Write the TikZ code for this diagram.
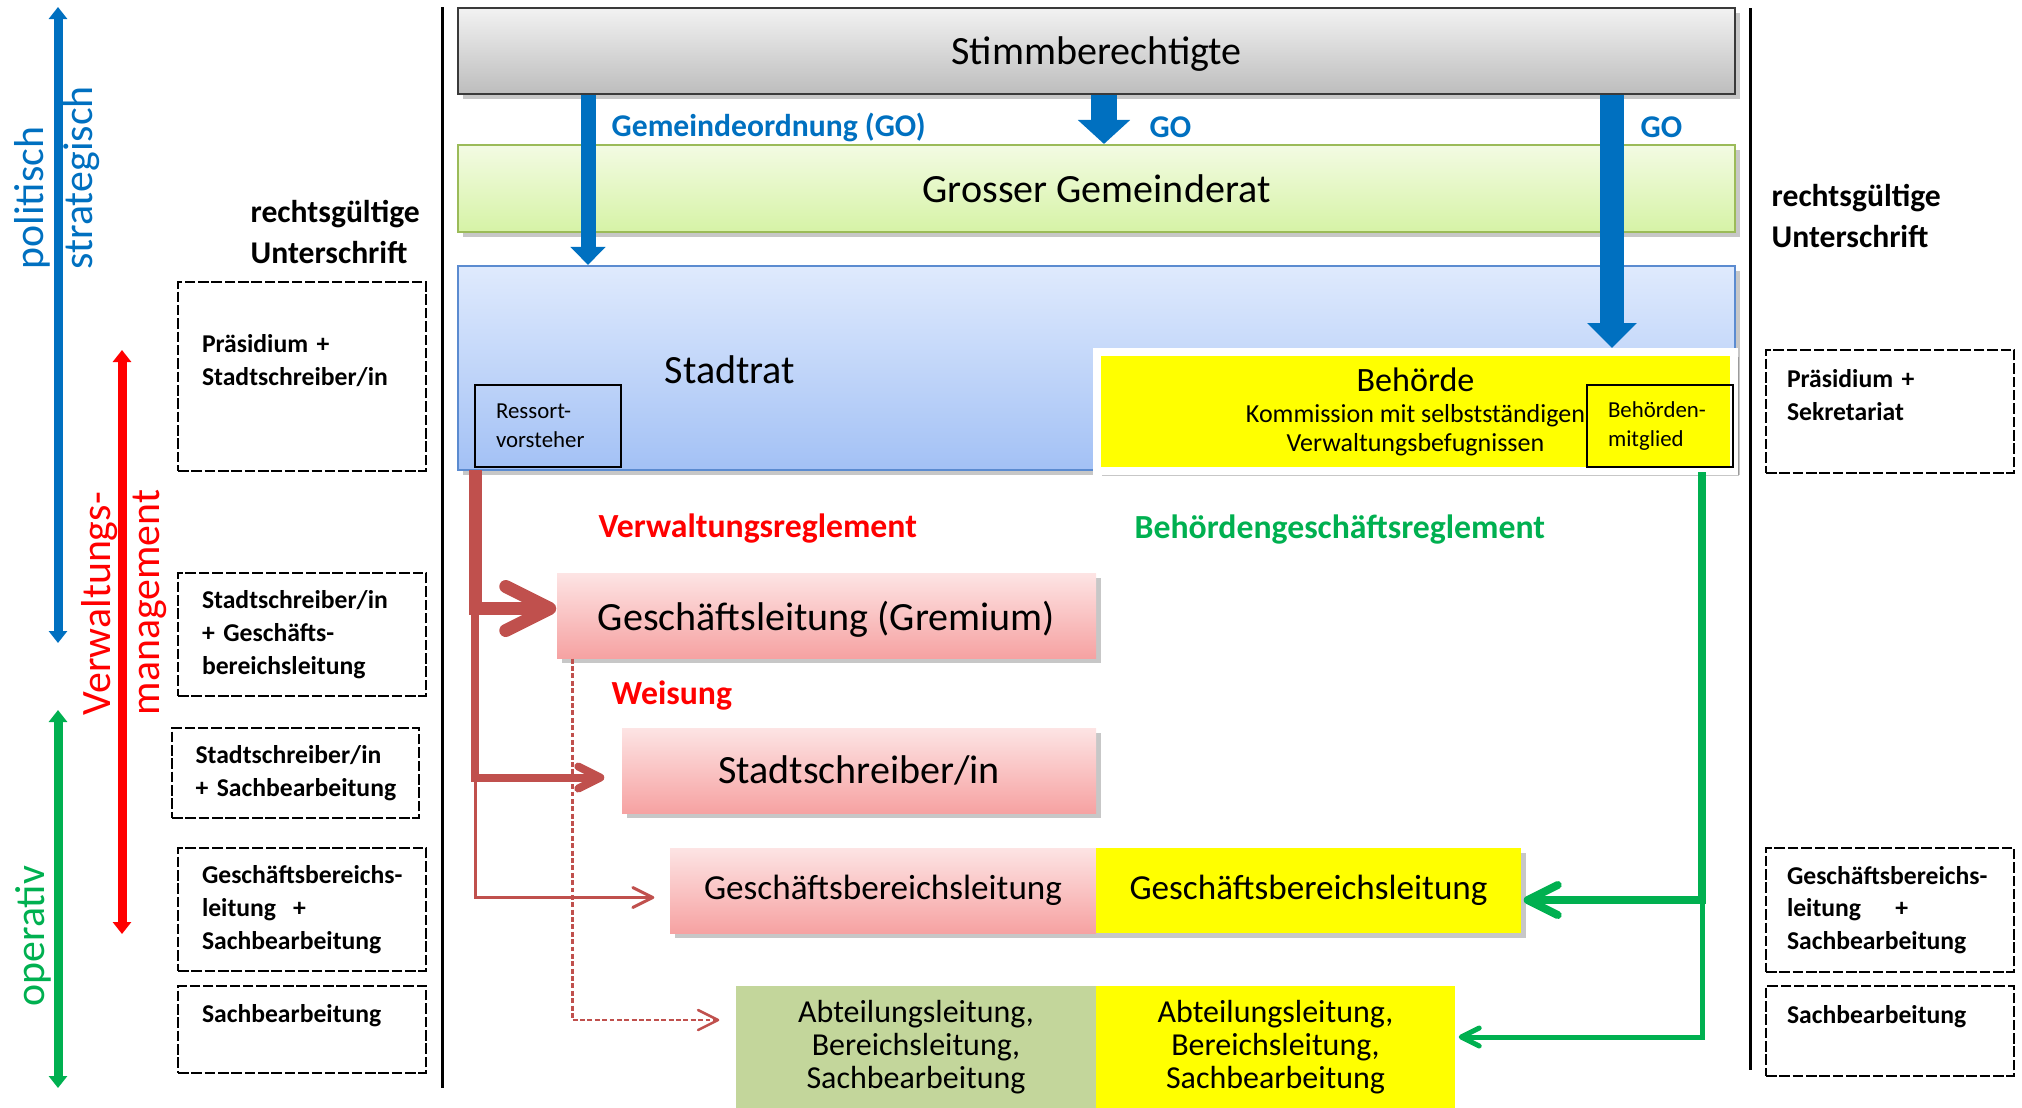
\documentclass[tikz,border=0pt]{standalone}
\usepackage{fontspec}
\setmainfont{Carlito}
\usetikzlibrary{arrows.meta,shadows}

\definecolor{stimtop}{HTML}{F2F2F2}
\definecolor{stimbot}{HTML}{BDBDBD}
\definecolor{stimline}{HTML}{3A3A3A}
\definecolor{ggrtop}{HTML}{F3FBE3}
\definecolor{ggrbot}{HTML}{D6F3A6}
\definecolor{ggrline}{HTML}{9BBB59}
\definecolor{srattop}{HTML}{DFEAFD}
\definecolor{sratbot}{HTML}{A3C1F5}
\definecolor{sratline}{HTML}{5B8BD0}
\definecolor{pinktop}{HTML}{FDE4E4}
\definecolor{pinkbot}{HTML}{F6A2A2}
\definecolor{behyellow}{HTML}{FFFF00}
\definecolor{abtgreen}{HTML}{C3D69B}
\definecolor{goblue}{HTML}{0070C0}
\definecolor{regred}{HTML}{FF0000}
\definecolor{weired}{HTML}{C0504D}
\definecolor{behgreen}{HTML}{00B050}

\begin{document}
\begin{tikzpicture}[x=1cm,y=-1cm,
   every node/.style={inner sep=0pt},
   bigtxt/.style={font=\fontsize{11.4}{13.7}\selectfont},
   midtxt/.style={font=\fontsize{10}{12}\selectfont},
   abttxt/.style={font=\fontsize{9.1}{9.4}\selectfont},
   smalltxt/.style={font=\fontsize{6.5}{8.25}\selectfont},
   komtxt/.style={font=\fontsize{7.4}{8.25}\selectfont},
   sidetxt/.style={font=\fontsize{7.3}{9.3}\selectfont\bfseries},
   signtxt/.style={font=\fontsize{9}{11.4}\selectfont\bfseries},
   golbl/.style={font=\fontsize{9}{11}\selectfont\bfseries, text=goblue, anchor=west},
   reglbl/.style={font=\fontsize{9.6}{11}\selectfont\bfseries, anchor=west},
   axistxt/.style={font=\fontsize{11.9}{13.9}\selectfont, rotate=90, anchor=west, align=left},
   shadowed/.style={drop shadow={shadow xshift=0.05cm, shadow yshift=-0.05cm, opacity=0.22, fill=black}},
   govbox/.style={shadowed, minimum width=12.77cm, line width=0.6pt, bigtxt},
   pinkbox/.style={shadowed, top color=pinktop, bottom color=pinkbot, minimum height=0.85cm},
   memberbox/.style={draw, line width=0.8pt, minimum width=1.46cm, minimum height=0.82cm,
                     text width=1.04cm, align=left, smalltxt},
   dashbox/.style={draw, line width=0.8pt, dash pattern=on 3pt off 0.8pt, minimum width=2.48cm,
                   text width=2.0cm, align=left, sidetxt},
   sidearrow/.style={line width=0.09cm, {Triangle[width=0.18cm,length=0.12cm]}-{Triangle[width=0.18cm,length=0.12cm]}},
   weiarrow/.style={weired, -{Straight Barb[length=#1,width=#1,round]}},
   behdarrow/.style={behgreen, -{Straight Barb[length=#1,width=#1,round]}}]

  \useasboundingbox (0,0) rectangle (20.22,11.07);

  % Organs
  \node[govbox, minimum height=0.86cm, text depth=0pt, top color=stimtop, bottom color=stimbot, draw=stimline] (stimm) at (10.965,0.51) {Stimmberechtigte};  % voters
  \node[govbox, minimum height=0.87cm, top color=ggrtop, bottom color=ggrbot, draw=ggrline] (ggr) at (10.965,1.885) {Grosser Gemeinderat}; % parliament
  \node[govbox, minimum height=2.04cm, top color=srattop, bottom color=sratbot, draw=sratline] (srat) at (10.965,3.68) {};             % Stadtrat box
  \node[bigtxt] (sratlbl) at (7.30,3.70) {Stadtrat};
  \node[memberbox] (ressort) at (5.48,4.26) {Ressort-\\vorsteher};

  \node[shadowed, draw=white, line width=0.08cm, fill=behyellow, minimum width=6.37cm, minimum height=1.19cm,
        align=center, komtxt] (behoerde) at (14.155,4.115)
        {{\fontsize{9.7}{11}\selectfont Behörde}\\[0.6pt]Kommission mit selbstständigen\\Verwaltungsbefugnissen};
  \node[memberbox] (mitglied) at (16.60,4.26) {Behörden-\\mitglied};

  % Administration
  \node[pinkbox, minimum width=5.39cm, text depth=0pt, bigtxt] (gl) at (8.265,6.155) {Geschäftsleitung (Gremium)};
  \node[pinkbox, minimum width=4.74cm, bigtxt] (ss) at (8.59,7.705) {Stadtschreiber/in};
  \node[pinkbox, minimum width=4.26cm, midtxt] (gblr) at (8.83,8.905) {Geschäftsbereichsleitung};
  \node[shadowed, fill=behyellow, minimum width=4.25cm, minimum height=0.85cm, midtxt] (gbly) at (13.085,8.905) {Geschäftsbereichsleitung};
  \node[fill=abtgreen, minimum width=3.60cm, minimum height=1.22cm, align=center, abttxt] (abtl) at (9.16,10.47)
        {Abteilungsleitung,\\Bereichsleitung,\\Sachbearbeitung};
  \node[fill=behyellow, minimum width=3.59cm, minimum height=1.22cm, align=center, abttxt] (abty) at (12.755,10.47)
        {Abteilungsleitung,\\Bereichsleitung,\\Sachbearbeitung};

  % Dividers
  \draw[line width=0.03cm] (4.42,0.07) -- (4.42,10.88);    % left divider
  \draw[line width=0.03cm] (17.50,0.08) -- (17.50,10.70);  % right divider

  % Levels
  \draw[sidearrow, goblue] (0.58,6.43) -- (0.58,0.07);      % politisch strategisch
  \draw[sidearrow, regred] (1.22,9.34) -- (1.22,3.50);      % Verwaltungsmanagement
  \draw[sidearrow, behgreen] (0.58,10.88) -- (0.58,7.10);   % operativ
  \node[axistxt, text=goblue] (polit) at (0.575,2.70) {politisch\\strategisch};
  \node[axistxt, text=regred] (verw) at (1.24,7.16) {Verwaltungs-\\management};
  \node[axistxt, text=behgreen] (oper) at (0.33,10.07) {operativ};

  % Signatures
  \node[signtxt, anchor=west, align=left] (signL) at (2.50,2.32) {rechtsgültige\\Unterschrift};
  \node[signtxt, anchor=west, align=left] (signR) at (17.71,2.16) {rechtsgültige\\Unterschrift};
  \node[dashbox, minimum height=1.89cm] (lpraes) at (3.02,3.765) {Präsidium +\\Stadtschreiber/in\\\hbox{}};
  \node[dashbox, minimum height=1.23cm] (lgbl) at (3.02,6.345) {Stadtschreiber/in\\+ Geschäfts-\\bereichsleitung};
  \node[dashbox, minimum width=2.47cm, minimum height=0.90cm] (lss) at (2.955,7.73) {Stadtschreiber/in\\\hbox{+ Sachbearbeitung}};
  \node[dashbox, minimum height=1.23cm] (lgblsb) at (3.02,9.095) {\hbox{Geschäftsbereichs-}\\leitung\ \ +\\Sachbearbeitung};
  \node[dashbox, minimum height=0.87cm] (lsb) at (3.02,10.295) {Sachbearbeitung\\\hbox{}};
  \node[dashbox, text width=2.06cm, minimum height=1.23cm] (rpraes) at (18.90,4.115) {Präsidium +\\Sekretariat\\\hbox{}};
  \node[dashbox, text width=2.06cm, minimum height=1.24cm] (rgblsb) at (18.90,9.10) {\hbox{Geschäftsbereichs-}\\leitung\ \ \ \ +\\Sachbearbeitung};
  \node[dashbox, text width=2.06cm, minimum height=0.90cm] (rsb) at (18.90,10.31) {Sachbearbeitung\\\hbox{}};

  % Gemeindeordnung
  \coordinate (goL) at (5.88,0);
  \coordinate (goM) at (11.04,0);
  \coordinate (goR) at (16.12,0);
  \draw[goblue, line width=0.15cm, -{Triangle[width=0.34cm,length=0.18cm]}] (stimm.south -| goL) -- (srat.north -| goL);
  \draw[goblue, line width=0.26cm, -{Triangle[width=0.51cm,length=0.24cm]}] (stimm.south -| goM) -- (ggr.north -| goM);
  \draw[goblue, line width=0.24cm, -{Triangle[width=0.48cm,length=0.25cm]}] (stimm.south -| goR) -- (behoerde.north -| goR);
  \node[golbl] (goLlbl) at (6.11,1.27) {Gemeindeordnung (GO)};
  \node[golbl] (goMlbl) at (11.49,1.27) {GO};
  \node[golbl] (goRlbl) at (16.40,1.27) {GO};

  % Verwaltungsreglement
  \coordinate (trunk) at (4.75,4.70);
  \draw[weiarrow=0.44cm, line width=0.13cm] (trunk) |- ([yshift=0.07cm]gl.west);
  \draw[weiarrow=0.22cm, line width=0.08cm, shorten >=0.17cm] (trunk) |- ([yshift=-0.07cm]ss.west);
  \draw[weiarrow=0.2cm, line width=0.03cm, shorten >=0.15cm] (trunk) |- ([yshift=-0.07cm]gblr.west);
  \draw[weiarrow=0.2cm, line width=0.025cm, dash pattern=on 1.4pt off 0.7pt, shorten >=0.16cm]
       ([xshift=0.16cm]gl.south west) |- ([yshift=0.27cm]abtl.west);
  \node[reglbl, text=regred] (vreg) at (5.98,5.29) {Verwaltungsreglement};
  \node[reglbl, text=regred] (weis) at (6.11,6.96) {Weisung};

  % Behoerdengeschaeftsreglement
  \coordinate (gtop) at (17.02,4.72);
  \draw[behdarrow=0.3cm, line width=0.08cm, shorten >=0.02cm] (gtop) |- ([yshift=-0.095cm]gbly.east);
  \draw[behdarrow=0.18cm, line width=0.05cm, shorten >=0.03cm] (gtop) |- ([yshift=0.10cm]abty.east);
  \node[reglbl, text=behgreen] (breg) at (11.34,5.30) {Behördengeschäftsreglement};

\end{tikzpicture}
\end{document}
